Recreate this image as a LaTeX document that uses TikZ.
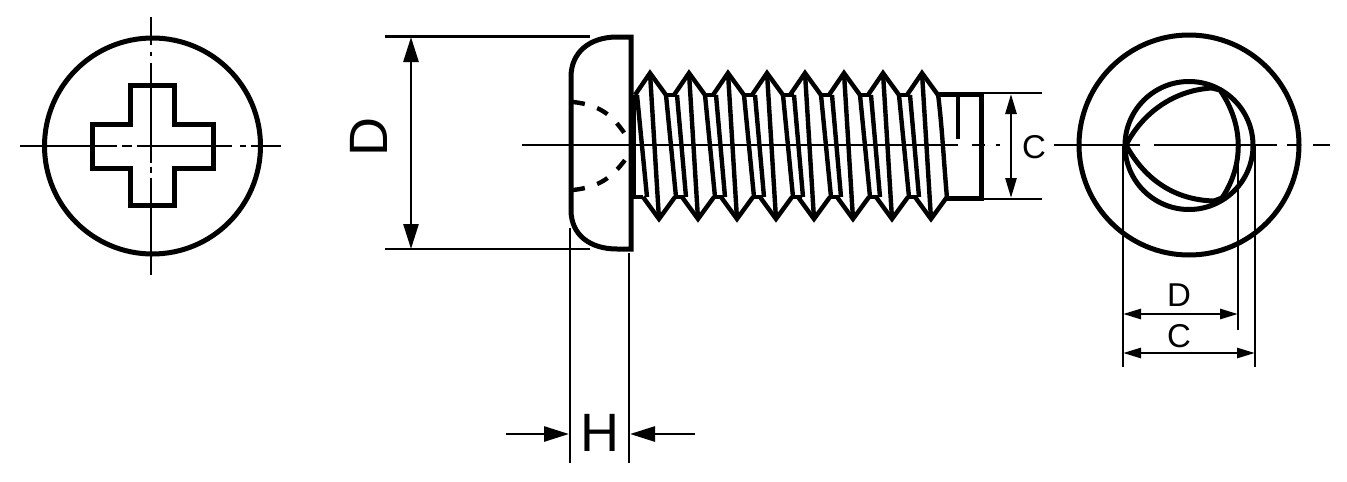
\documentclass[tikz,border=0pt]{standalone}
\usepackage{fontspec}
\setmainfont{Liberation Sans}
\usetikzlibrary{arrows.meta}

\begin{document}
\begin{tikzpicture}[x=1pt, y=-1pt,
    outline/.style = {line width=5pt, line join=miter},
    thread/.style = {line width=4.4pt, line join=miter},
    dimline/.style = {line width=2.7pt},
    axis/.style = {line width=1.9pt},
    bigboth/.style = {{Triangle[length=25pt,width=15pt]}-{Triangle[length=25pt,width=15pt]}},
    midboth/.style = {{Triangle[length=20pt,width=11pt]}-{Triangle[length=20pt,width=11pt]}},
    both/.style = {{Triangle[length=18pt,width=10pt]}-{Triangle[length=18pt,width=10pt]}},
    arrowin/.style = {-{Triangle[length=25pt,width=15pt]}},
    small/.style = {font=\fontsize{33}{33}\selectfont, inner sep=0pt},
    large/.style = {font=\fontsize{54}{54}\selectfont, inner sep=0pt}]
\useasboundingbox (0,0) rectangle (1347,482);

% front view, cross recess
\draw[outline] (152.5,146) circle (108);
\draw[outline] (130,85) -- (174,85) -- (174,124) -- (213,124) -- (213,168) -- (174,168)
  -- (174,205) -- (130,205) -- (130,168) -- (92,168) -- (92,124) -- (130,124) -- cycle;
\draw[dimline] (20,146) -- (117,146) (122,146) -- (132,146) (137,146) -- (232,146)
  (240,146) -- (246,146) (251,146) -- (281,146);
\draw[dimline] (151,17) -- (151,45) (151,52) -- (151,56) (151,63) -- (151,163)
  (151,167) -- (151,173) (151,178) -- (151,275);

% head
\draw[outline] (631,37) -- (617,37) .. controls (590,37) and (571,52) .. (571,77)
  -- (571,210) .. controls (571,235) and (590,249) .. (617,249) -- (631,249) -- cycle;
\draw[thread, dash pattern=on 12pt off 13pt] (573,102) .. controls (600,105) and (612,115) .. (625,134);
\draw[thread, dash pattern=on 12pt off 13pt] (573,190) .. controls (600,187) and (612,177) .. (625,160);

% thread
\draw[thread] (634,95) -- (634,197) (631,197) -- (643,197);
\draw[thread] (637,95) -- (647,197);
\foreach \cx in {650,689,728,767,805,844,883,922} {
  \draw[thread] (\cx-15,95) -- (\cx,73) -- (\cx+16,95);
  \draw[thread] (\cx+9-16,197) -- (\cx+9,219) -- (\cx+9+16,197);
  \draw[thread] (\cx,73) -- (\cx+9,219);
}
\foreach \cx in {650,689,728,767,805,844,883} {
  \draw[thread] (\cx+16,95) -- (\cx+27,95) (\cx+25,197) -- (\cx+35,197);
  \draw[thread] (\cx+16,95) -- (\cx+26,197);
  \draw[thread] (\cx+27,95) -- (\cx+36,197);
}
\draw[thread] (938,94) .. controls (942,125) and (944,165) .. (947,198);

% shank end
\draw[outline] (936,94) -- (981,94) -- (981,198) -- (945,198);
\draw[thread] (958,94) -- (958,139);
\draw[axis] (522,145) -- (958,145) (972,145) -- (985,145) (996,145) -- (1000,145)
  (1054,145) -- (1140,145) (1154,145) -- (1277,145) (1287,145) -- (1300,145) (1313,145) -- (1330,145);

% dimensions of the head
\draw[dimline] (385,36.5) -- (590,36.5) (385,249) -- (590,249);
\draw[dimline, bigboth] (411,37) -- (411,249);
\node[large, rotate=90] (headdia) at (369,137) {D};
\draw[dimline] (570,228) -- (570,463) (629,253) -- (629,463);
\draw[dimline, arrowin] (506,434) -- (569,434);
\draw[dimline, arrowin] (695,434) -- (630,434);
\node[large] (headheight) at (600,433) {H};

% dimension of the shank
\draw[dimline] (981,93) -- (1042,93) (981,199) -- (1042,199);
\draw[dimline, midboth] (1011,94) -- (1011,198);
\node[small] (shankdia) at (1034,147) {C};

% end view, trilobular section
\draw[outline] (1189,145) circle (110);
\draw[outline] (1189,145.5) circle (64);
\draw[outline] (1126,145) .. controls (1143,112) and (1175,90) .. (1212,88) -- (1220,90)
  .. controls (1244,125) and (1244,165) .. (1222,198) -- (1214,201)
  .. controls (1175,200) and (1145,180) .. (1126,145) -- cycle;
\draw[dimline] (1123,145) -- (1123,367) (1238,145) -- (1238,330) (1255,145) -- (1255,367);
\draw[dimline, both] (1123,314) -- (1238,314);
\draw[dimline, both] (1123,353) -- (1255,353);
\node[small] (enddia) at (1179,295) {D};
\node[small] (endcirc) at (1179,336) {C};

\end{tikzpicture}
\end{document}
